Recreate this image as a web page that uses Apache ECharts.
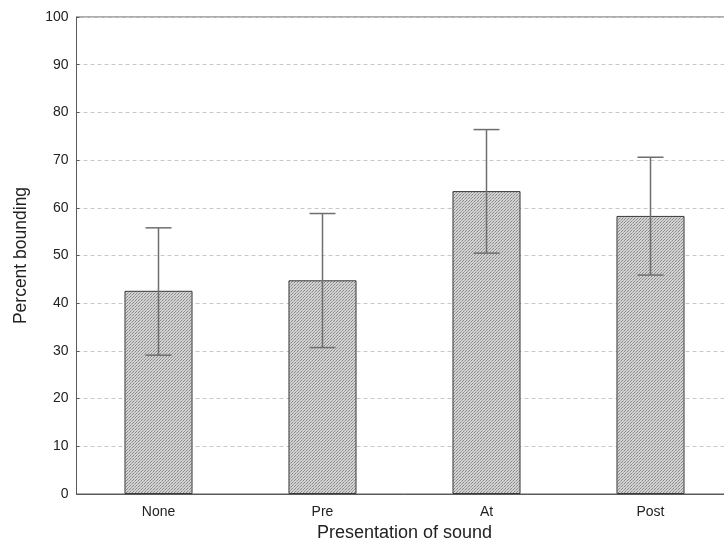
<!DOCTYPE html>
<html>
<head>
<meta charset="utf-8">
<script src="https://cdn.jsdelivr.net/npm/echarts@6/dist/echarts.min.js"></script>
<style>
  html, body { margin: 0; padding: 0; background: #fff; overflow: hidden; }
  /* The plot frame runs slightly past the right edge of the window */
  #chart { width: 734px; height: 549px; }
</style>
</head>
<body>
<div id="chart"></div>
<script>
// Conditions and mean percent bounding with error range
const categories = ['None', 'Pre', 'At', 'Post'];
const meanValues = [42.6, 44.8, 63.5, 58.3];
const errorHigh = [55.8, 58.8, 76.4, 70.6];
const errorLow = [29.1, 30.7, 50.5, 45.9];
const yTicks = [0, 10, 20, 30, 40, 50, 60, 70, 80, 90, 100];

// Stippled gray fill for the bars
function stipplePattern() {
  const c = document.createElement('canvas');
  c.width = 3; c.height = 3;
  const g = c.getContext('2d');
  g.fillStyle = '#d2d2d2';
  g.fillRect(0, 0, 3, 3);
  g.fillStyle = '#8a8a8a';
  g.fillRect(0, 0, 1, 1);
  g.fillRect(1, 2, 1, 1);
  g.fillStyle = '#aaaaaa';
  g.fillRect(2, 1, 1, 1);
  return c;
}

const font = 'Liberation Sans, Arial, Helvetica, sans-serif';
const chart = echarts.init(document.getElementById('chart'), null, { renderer: 'canvas' });

chart.setOption({
  animation: false,
  grid: {
    left: 76.5, right: 1.5, top: 17, bottom: 55,
    show: true, borderColor: '#5a5a5a', borderWidth: 1
  },
  xAxis: {
    type: 'category',
    data: categories,
    name: 'Presentation of sound',
    nameLocation: 'middle',
    nameGap: 30,
    nameTextStyle: { fontFamily: font, fontSize: 18, color: '#222' },
    axisLine: { show: true, lineStyle: { color: '#5a5a5a', width: 1 } },
    axisTick: { show: false },
    axisLabel: { fontFamily: font, fontSize: 14, color: '#222', margin: 11 },
    splitLine: { show: false }
  },
  yAxis: {
    type: 'value',
    min: yTicks[0],
    max: yTicks[yTicks.length - 1],
    interval: 10,
    name: 'Percent bounding',
    nameLocation: 'middle',
    nameGap: 46,
    nameTextStyle: { fontFamily: font, fontSize: 17.5, color: '#222' },
    axisLine: { show: true, lineStyle: { color: '#5a5a5a', width: 1 } },
    axisTick: { show: true, inside: true, length: 3, lineStyle: { color: '#5a5a5a' } },
    axisLabel: { fontFamily: font, fontSize: 14, color: '#222', margin: 8 },
    splitLine: { show: true, lineStyle: { color: '#c8c8c8', type: [4, 3], width: 1 } }
  },
  series: [
    {
      type: 'bar',
      data: meanValues,
      barWidth: '41.5%',
      itemStyle: {
        color: { image: stipplePattern(), repeat: 'repeat' },
        borderColor: '#3a3a3a',
        borderWidth: 1
      },
      z: 2
    },
    {
      type: 'custom',
      data: categories.map((c, i) => [i, errorLow[i], errorHigh[i]]),
      encode: { x: 0, y: [1, 2] },
      z: 3,
      renderItem: function (params, api) {
        const i = api.value(0);
        const lo = api.coord([i, api.value(1)]);
        const hi = api.coord([i, api.value(2)]);
        const half = 13;
        const style = { stroke: '#6e6e6e', lineWidth: 1.5, fill: null };
        return {
          type: 'group',
          children: [
            { type: 'line', shape: { x1: hi[0], y1: hi[1], x2: lo[0], y2: lo[1] }, style },
            { type: 'line', shape: { x1: hi[0] - half, y1: hi[1], x2: hi[0] + half, y2: hi[1] }, style },
            { type: 'line', shape: { x1: lo[0] - half, y1: lo[1], x2: lo[0] + half, y2: lo[1] }, style }
          ]
        };
      }
    }
  ]
});
</script>
</body>
</html>
